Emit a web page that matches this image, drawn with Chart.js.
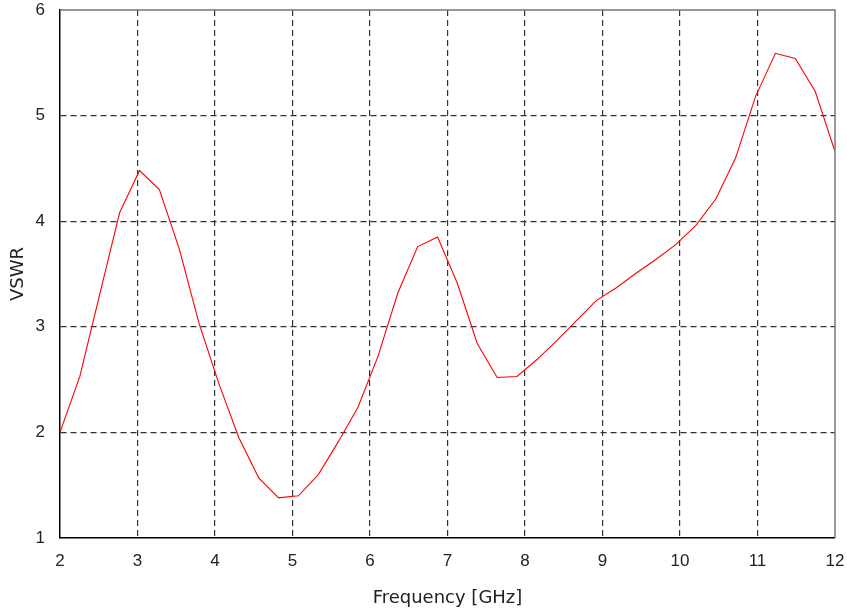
<!DOCTYPE html>
<html>
<head>
<meta charset="utf-8">
<script src="https://cdn.jsdelivr.net/npm/chart.js@4.4.1/dist/chart.umd.min.js"></script>
<style>
    html, body { margin: 0; padding: 0; background: #fff; }
    #wrap { width: 847px; height: 615px; }
</style>
</head>
<body>
<div id="wrap"><canvas id="vswr"></canvas></div>
<script>
// frequency samples in GHz (40 points, 2 to 12)
const freqs = [
    2.000, 2.256, 2.513, 2.769, 3.026, 3.282, 3.538, 3.795, 4.051, 4.308,
    4.564, 4.821, 5.077, 5.333, 5.590, 5.846, 6.103, 6.359, 6.615, 6.872,
    7.128, 7.385, 7.641, 7.897, 8.154, 8.410, 8.667, 8.923, 9.179, 9.436,
    9.692, 9.949, 10.205, 10.462, 10.718, 10.974, 11.231, 11.487, 11.744, 12.000
];
const vswr = [
    2.00, 2.53, 3.31, 4.08, 4.48, 4.30, 3.74, 3.03, 2.46, 1.95,
    1.57, 1.38, 1.40, 1.60, 1.91, 2.24, 2.72, 3.32, 3.76, 3.85,
    3.41, 2.84, 2.52, 2.53, 2.69, 2.87, 3.06, 3.25, 3.37, 3.51,
    3.64, 3.78, 3.96, 4.21, 4.60, 5.18, 5.59, 5.54, 5.23, 4.66
];
const xTicks = [2, 3, 4, 5, 6, 7, 8, 9, 10, 11, 12];
const yTicks = [1, 2, 3, 4, 5, 6];

const points = freqs.map((f, i) => ({ x: f, y: vswr[i] }));

function innerGrid(ctx) {
    const n = ctx.scale.ticks.length;
    return (ctx.index === 0 || ctx.index === n - 1) ? 'rgba(0,0,0,0)' : '#333';
}

// grey top/right frame like the original plot
const frame = {
    id: 'frame',
    afterDatasetsDraw(chart) {
        const a = chart.chartArea;
        const c = chart.ctx;
        c.save();
        c.strokeStyle = '#777';
        c.lineWidth = 1.5;
        c.beginPath();
        c.moveTo(a.left, a.top);
        c.lineTo(a.right, a.top);
        c.lineTo(a.right, a.bottom);
        c.stroke();
        c.restore();
    }
};

document.addEventListener("DOMContentLoaded", function () {
    const ctx = document.getElementById("vswr").getContext("2d");
    new Chart(ctx, {
        type: "line",
        data: {
            datasets: [{
                label: "VSWR",
                data: points,
                borderColor: "#ff0000",
                borderWidth: 1.1,
                pointRadius: 0,
                tension: 0,
                fill: false
            }]
        },
        options: {
            responsive: true,
            maintainAspectRatio: false,
            animation: false,
            layout: { padding: { top: 10, right: 12, left: 0, bottom: 0 } },
            plugins: {
                legend: { display: false },
                tooltip: { enabled: false }
            },
            scales: {
                x: {
                    type: "linear",
                    min: 2,
                    max: 12,
                    afterBuildTicks(scale) {
                        scale.ticks = xTicks.map(v => ({ value: v }));
                    },
                    afterFit(scale) {
                        scale.height = 77;
                        scale.paddingLeft = 0;
                        scale.paddingRight = 0;
                    },
                    grid: {
                        color: innerGrid,
                        lineWidth: 1.2,
                        drawTicks: false
                    },
                    border: { display: true, color: "#000", width: 1.5, dash: [6, 4] },
                    ticks: {
                        padding: 13,
                        color: "#222",
                        font: { family: "Liberation Sans", size: 17 }
                    },
                    title: {
                        display: true,
                        text: "Frequency [GHz]",
                        color: "#222",
                        font: { family: "DejaVu Sans", size: 18 },
                        padding: { top: 12, bottom: 6 }
                    }
                },
                y: {
                    min: 1,
                    max: 6,
                    afterBuildTicks(scale) {
                        scale.ticks = yTicks.map(v => ({ value: v }));
                    },
                    afterFit(scale) {
                        scale.width = 60;
                        scale.paddingTop = 0;
                        scale.paddingBottom = 0;
                    },
                    grid: {
                        color: innerGrid,
                        lineWidth: 1.2,
                        drawTicks: false
                    },
                    border: { display: true, color: "#000", width: 1.5, dash: [6, 4] },
                    ticks: {
                        padding: 15,
                        color: "#222",
                        font: { family: "Liberation Sans", size: 17 }
                    },
                    title: {
                        display: true,
                        text: "VSWR",
                        color: "#222",
                        font: { family: "DejaVu Sans", size: 18 },
                        padding: { top: 8, bottom: 0 }
                    }
                }
            }
        },
        plugins: [frame]
    });
});
</script>
</body>
</html>
